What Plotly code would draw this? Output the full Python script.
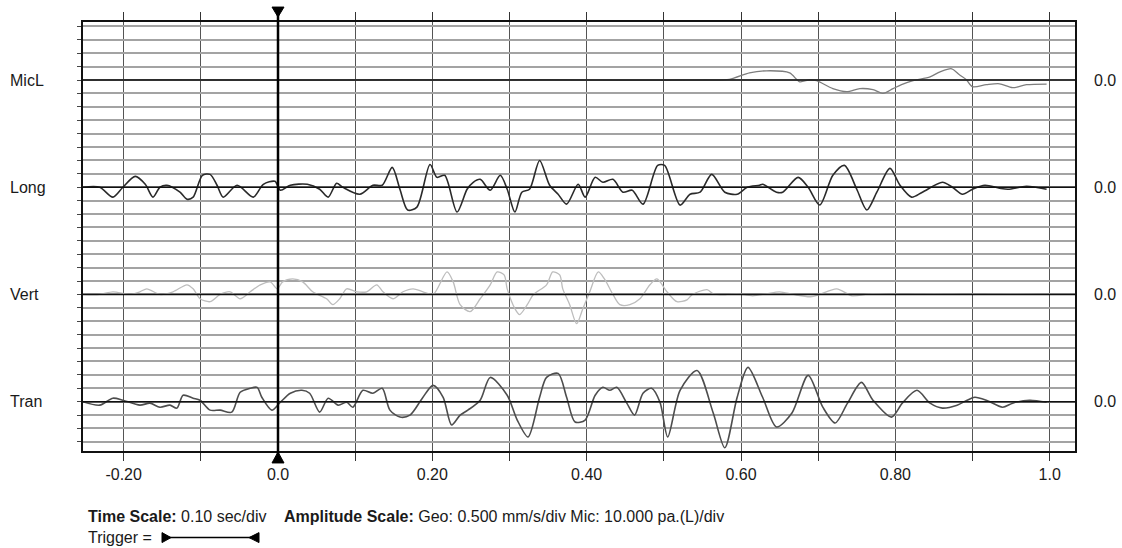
import plotly.graph_objects as go

# ---------------- data ----------------
# time in seconds, geophone amplitudes in mm/s, microphone in Pa
long_t = [-0.253, -0.231, -0.214, -0.201, -0.185, -0.172, -0.162, -0.153, -0.144, -0.127,
          -0.118, -0.110, -0.098, -0.088, -0.079, -0.071, -0.053, -0.032, -0.019, -0.004,
          0.003, 0.016, 0.038, 0.054, 0.065, 0.076, 0.084, 0.106, 0.123, 0.135,
          0.148, 0.158, 0.168, 0.180, 0.197, 0.206, 0.216, 0.232, 0.245, 0.253,
          0.262, 0.275, 0.288, 0.297, 0.307, 0.316, 0.326, 0.339, 0.352, 0.363,
          0.374, 0.389, 0.398, 0.411, 0.421, 0.434, 0.447, 0.459, 0.473, 0.492,
          0.501, 0.521, 0.534, 0.547, 0.562, 0.579, 0.595, 0.608, 0.624, 0.628,
          0.646, 0.654, 0.674, 0.687, 0.702, 0.719, 0.734, 0.750, 0.763, 0.776,
          0.793, 0.806, 0.821, 0.835, 0.861, 0.874, 0.887, 0.900, 0.916, 0.935,
          0.946, 0.970, 0.996]
long_mm_s = [0, 0, -0.37, 0, 0.405, 0.11, -0.37, 0, 0.075, -0.185,
             -0.445, -0.37, 0.445, 0.48, 0.075, -0.37, 0.075, -0.37, 0.11, 0.22,
             -0.11, 0.075, 0.11, -0.075, -0.37, 0.15, 0, -0.26, 0.075, 0.075,
             0.74, -0.075, -0.85, -0.74, 0.85, 0.37, 0.445, -0.925, -0.075, 0.185,
             0.295, -0.11, 0.445, -0.075, -0.925, -0.185, -0.075, 1.0, 0.075, -0.26,
             -0.63, 0.11, -0.37, 0.37, 0.185, 0.295, -0.185, -0.11, -0.63, 0.815,
             0.815, -0.665, -0.26, -0.185, 0.48, -0.185, -0.26, 0, 0.075, 0.11,
             -0.185, -0.185, 0.37, 0, -0.665, 0.445, 0.815, -0.075, -0.85, -0.185,
             0.705, 0.075, -0.37, -0.185, 0.185, 0, -0.26, -0.075, 0.075, -0.035,
             -0.075, 0.035, -0.075]

tran_t = [-0.253, -0.231, -0.214, -0.201, -0.179, -0.166, -0.153, -0.140, -0.131, -0.123,
          -0.110, -0.101, -0.088, -0.075, -0.060, -0.049, -0.036, -0.027, -0.021, -0.008,
          0.003, 0.016, 0.031, 0.041, 0.054, 0.065, 0.078, 0.089, 0.097, 0.110,
          0.123, 0.135, 0.145, 0.158, 0.171, 0.187, 0.201, 0.214, 0.225, 0.236,
          0.246, 0.262, 0.275, 0.297, 0.310, 0.324, 0.339, 0.348, 0.363, 0.374,
          0.385, 0.398, 0.411, 0.421, 0.430, 0.439, 0.452, 0.462, 0.473, 0.484,
          0.495, 0.505, 0.521, 0.543, 0.564, 0.579, 0.595, 0.609, 0.628, 0.646,
          0.666, 0.687, 0.706, 0.722, 0.738, 0.756, 0.771, 0.795, 0.809, 0.828,
          0.845, 0.861, 0.880, 0.893, 0.903, 0.918, 0.939, 0.952, 0.974, 0.996]
tran_mm_s = [0, -0.13, 0.13, 0.055, -0.13, -0.055, -0.205, -0.13, -0.24, 0.24,
             0.13, 0.055, -0.315, -0.315, -0.39, 0.35, 0.5, 0.535, 0.165, -0.315,
             -0.02, 0.315, 0.425, 0.315, -0.39, 0.13, -0.13, -0.02, -0.205, 0.425,
             0.315, 0.5, -0.315, -0.575, -0.5, 0.13, 0.61, 0.165, -0.87, -0.5,
             -0.315, 0.055, 0.905, 0.24, -0.685, -1.315, 0.165, 0.905, 1.055, 0.165,
             -0.76, -0.685, 0.24, 0.535, 0.425, 0.535, -0.055, -0.5, 0.315, 0.5,
             -0.02, -1.315, 0.425, 1.165, -0.425, -1.72, 0.165, 1.28, 0.165, -0.945,
             -0.425, 0.98, -0.205, -0.795, -0.055, 0.72, 0.055, -0.575, -0.055, 0.425,
             -0.055, -0.24, -0.13, 0.055, 0.165, 0.055, -0.205, -0.055, 0.055, -0.02]

vert_t = [-0.253, -0.231, -0.214, -0.192, -0.179, -0.170, -0.153, -0.136, -0.118, -0.110,
          -0.101, -0.088, -0.075, -0.062, -0.049, -0.036, -0.023, -0.010, -0.001, 0.006,
          0.019, 0.032, 0.045, 0.063, 0.071, 0.080, 0.089, 0.102, 0.115, 0.128,
          0.136, 0.149, 0.162, 0.175, 0.188, 0.201, 0.219, 0.227, 0.236, 0.249,
          0.262, 0.275, 0.284, 0.293, 0.297, 0.307, 0.313, 0.323, 0.331, 0.348,
          0.356, 0.365, 0.369, 0.378, 0.387, 0.395, 0.404, 0.415, 0.423, 0.434,
          0.443, 0.456, 0.469, 0.482, 0.491, 0.504, 0.517, 0.530, 0.537, 0.556,
          0.564, 0.582, 0.595, 0.615, 0.633, 0.650, 0.668, 0.690, 0.702, 0.724,
          0.744, 0.767, 0.800, 0.850, 0.900, 0.950, 0.996]
vert_mm_s = [0, 0, 0.1, 0, 0.1, 0.21, 0, 0.1, 0.36, 0.21,
             -0.16, -0.27, 0, 0.1, -0.16, 0.1, 0.36, 0.47, 0.21, 0.47,
             0.58, 0.47, 0.1, -0.16, -0.38, -0.16, 0.21, 0.1, 0.1, 0.36,
             0.1, -0.16, 0.1, 0.21, 0.1, 0, 0.84, 0.47, -0.38, -0.64,
             -0.16, 0.36, 0.84, 0.73, 0.21, -0.53, -0.75, -0.38, 0, 0.36,
             0.84, 0.73, 0.21, -0.38, -1.09, -0.53, 0.1, 0.84, 0.58, 0,
             -0.38, -0.38, -0.16, 0.36, 0.58, 0.1, -0.27, -0.2, 0, 0.18,
             0.025, 0, 0.025, -0.05, 0.025, 0.1, 0, -0.085, 0, 0.21,
             -0.05, 0.025, 0, 0.025, 0, 0.025, 0]

micl_t = [-0.253, -0.150, -0.050, 0.050, 0.150, 0.250, 0.350, 0.450, 0.550,
          0.585, 0.611, 0.633, 0.663, 0.676, 0.689, 0.698,
          0.719, 0.737, 0.754, 0.771, 0.784, 0.797, 0.808, 0.823,
          0.845, 0.858, 0.873, 0.883, 0.892, 0.900,
          0.918, 0.935, 0.952, 0.970, 0.996]
micl_pa = [0, 0.3, 0, -0.3, 0.3, 0, 0.3, -0.3, 0,
           0.5, 5.4, 6.9, 5.4, -1.3, 0.2, -0.5,
           -6.4, -8.7, -6.4, -7.2, -10, -6.4, -3.5, -0.5,
           2.4, 6.1, 8.4, 3.9, 0.2, -5,
           -3.5, -2.8, -5.7, -3.5, -3.0]

channel_names = ["MicL", "Long", "Vert", "Tran"]
channel_offsets = [24, 16, 8, 0]          # baseline position, in divisions
channel_colors = ["#7d7d7d", "#2a2a2a", "#bdbdbd", "#4d4d4d"]
channel_widths = [1.3, 1.6, 1.3, 1.6]

GEO_PER_DIV = 0.5     # mm/s per division
MIC_PER_DIV = 10.0    # Pa per division

x_tick_vals = [-0.2, -0.1, 0.0, 0.1, 0.2, 0.3, 0.4, 0.5, 0.6, 0.7, 0.8, 0.9, 1.0]
x_tick_text = ["-0.20", "", "0.0", "", "0.20", "", "0.40", "", "0.60", "", "0.80", "", "1.0"]

X_MIN, X_MAX = -0.2527, 1.0328
Y_MIN, Y_MAX = -3.68, 28.33

# ---------------- layout geometry ----------------
W, H = 1122, 548
ML, MR, MT, MB = 83, 47, 20, 97
PW, PH = W - ML - MR, H - MT - MB


def px(xp):
    return (xp - ML) / PW


def py(yp):
    return (H - MB - yp) / PH


FONT = "Liberation Sans, Arial, sans-serif"
TXT = "#1a1a1a"
FS = 16

fig = go.Figure()

series = [
    (micl_t, [v / MIC_PER_DIV for v in micl_pa]),
    (long_t, [v / GEO_PER_DIV for v in long_mm_s]),
    (vert_t, [v / GEO_PER_DIV for v in vert_mm_s]),
    (tran_t, [v / GEO_PER_DIV for v in tran_mm_s]),
]
for (t, d), name, off, col, w in zip(series, channel_names, channel_offsets,
                                      channel_colors, channel_widths):
    fig.add_trace(go.Scatter(
        x=t, y=[off + v for v in d], mode="lines", name=name,
        line=dict(color=col, width=w, shape="spline", smoothing=0.8),
        hoverinfo="skip", showlegend=False))

shapes = []
# baselines
for off in channel_offsets:
    shapes.append(dict(type="line", xref="x", yref="y", x0=X_MIN, x1=X_MAX,
                       y0=off, y1=off, line=dict(color="#111111", width=1.6),
                       layer="above"))

# trigger line at t = 0
xt = (0 - X_MIN) / (X_MAX - X_MIN)
tw = 6 / PW
shapes.append(dict(type="line", xref="paper", yref="paper", x0=xt, x1=xt,
                   y0=py(463), y1=py(5), line=dict(color="#000000", width=2.5)))
shapes.append(dict(type="path", xref="paper", yref="paper",
                   path=f"M {xt - tw} {py(5)} L {xt + tw} {py(5)} L {xt} {py(15)} Z",
                   fillcolor="#000000", line=dict(color="#000000", width=1)))
shapes.append(dict(type="path", xref="paper", yref="paper",
                   path=f"M {xt - tw} {py(463)} L {xt + tw} {py(463)} L {xt} {py(452)} Z",
                   fillcolor="#000000", line=dict(color="#000000", width=1)))

# trigger legend symbol
ty = py(538)
shapes.append(dict(type="line", xref="paper", yref="paper", x0=px(163), x1=px(257),
                   y0=ty, y1=ty, line=dict(color="#000000", width=1.5)))
shapes.append(dict(type="path", xref="paper", yref="paper",
                   path=f"M {px(162)} {py(533)} L {px(171)} {py(538)} L {px(162)} {py(543)} Z",
                   fillcolor="#000000", line=dict(color="#000000", width=1)))
shapes.append(dict(type="path", xref="paper", yref="paper",
                   path=f"M {px(259)} {py(533)} L {px(249)} {py(538)} L {px(259)} {py(543)} Z",
                   fillcolor="#000000", line=dict(color="#000000", width=1)))

annotations = []
for name, off in zip(channel_names, channel_offsets):
    annotations.append(dict(text=name, xref="paper", yref="y", x=px(8), y=off,
                            xanchor="left", yanchor="middle", showarrow=False,
                            font=dict(family=FONT, size=FS, color=TXT)))
    annotations.append(dict(text="0.0", xref="paper", yref="y", x=px(1092), y=off,
                            xanchor="left", yanchor="middle", showarrow=False,
                            font=dict(family=FONT, size=FS, color=TXT)))

annotations.append(dict(text="<b>Time Scale:</b> 0.10 sec/div", xref="paper", yref="paper",
                        x=px(86), y=py(517), xanchor="left", yanchor="middle",
                        showarrow=False, font=dict(family=FONT, size=FS, color=TXT)))
annotations.append(dict(text="<b>Amplitude Scale:</b> Geo: 0.500 mm/s/div Mic: 10.000 pa.(L)/div",
                        xref="paper", yref="paper",
                        x=px(282), y=py(517), xanchor="left", yanchor="middle",
                        showarrow=False, font=dict(family=FONT, size=FS, color=TXT)))
annotations.append(dict(text="Trigger =", xref="paper", yref="paper",
                        x=px(86), y=py(538), xanchor="left", yanchor="middle",
                        showarrow=False, font=dict(family=FONT, size=FS, color=TXT)))

fig.update_layout(
    width=W, height=H,
    margin=dict(l=ML, r=MR, t=MT, b=MB, pad=0),
    paper_bgcolor="white", plot_bgcolor="white",
    shapes=shapes, annotations=annotations,
    xaxis=dict(range=[X_MIN, X_MAX], tickvals=x_tick_vals, ticktext=x_tick_text,
               ticks="outside", ticklen=8, tickwidth=1.2, tickcolor="#333333",
               showgrid=True, gridcolor="#555555", gridwidth=1,
               showline=True, linecolor="#111111", linewidth=1.6, mirror="allticks",
               zeroline=False, tickfont=dict(family=FONT, size=FS, color=TXT)),
    yaxis=dict(range=[Y_MIN, Y_MAX], tickvals=list(range(-3, 29)),
               ticks="outside", ticklen=4, tickcolor="#444444",
               showticklabels=False,
               showgrid=True, gridcolor="#a3a3a3", gridwidth=1.5,
               showline=True, linecolor="#111111", linewidth=1.6, mirror=True,
               zeroline=False),
)

fig.write_html("out.html")
